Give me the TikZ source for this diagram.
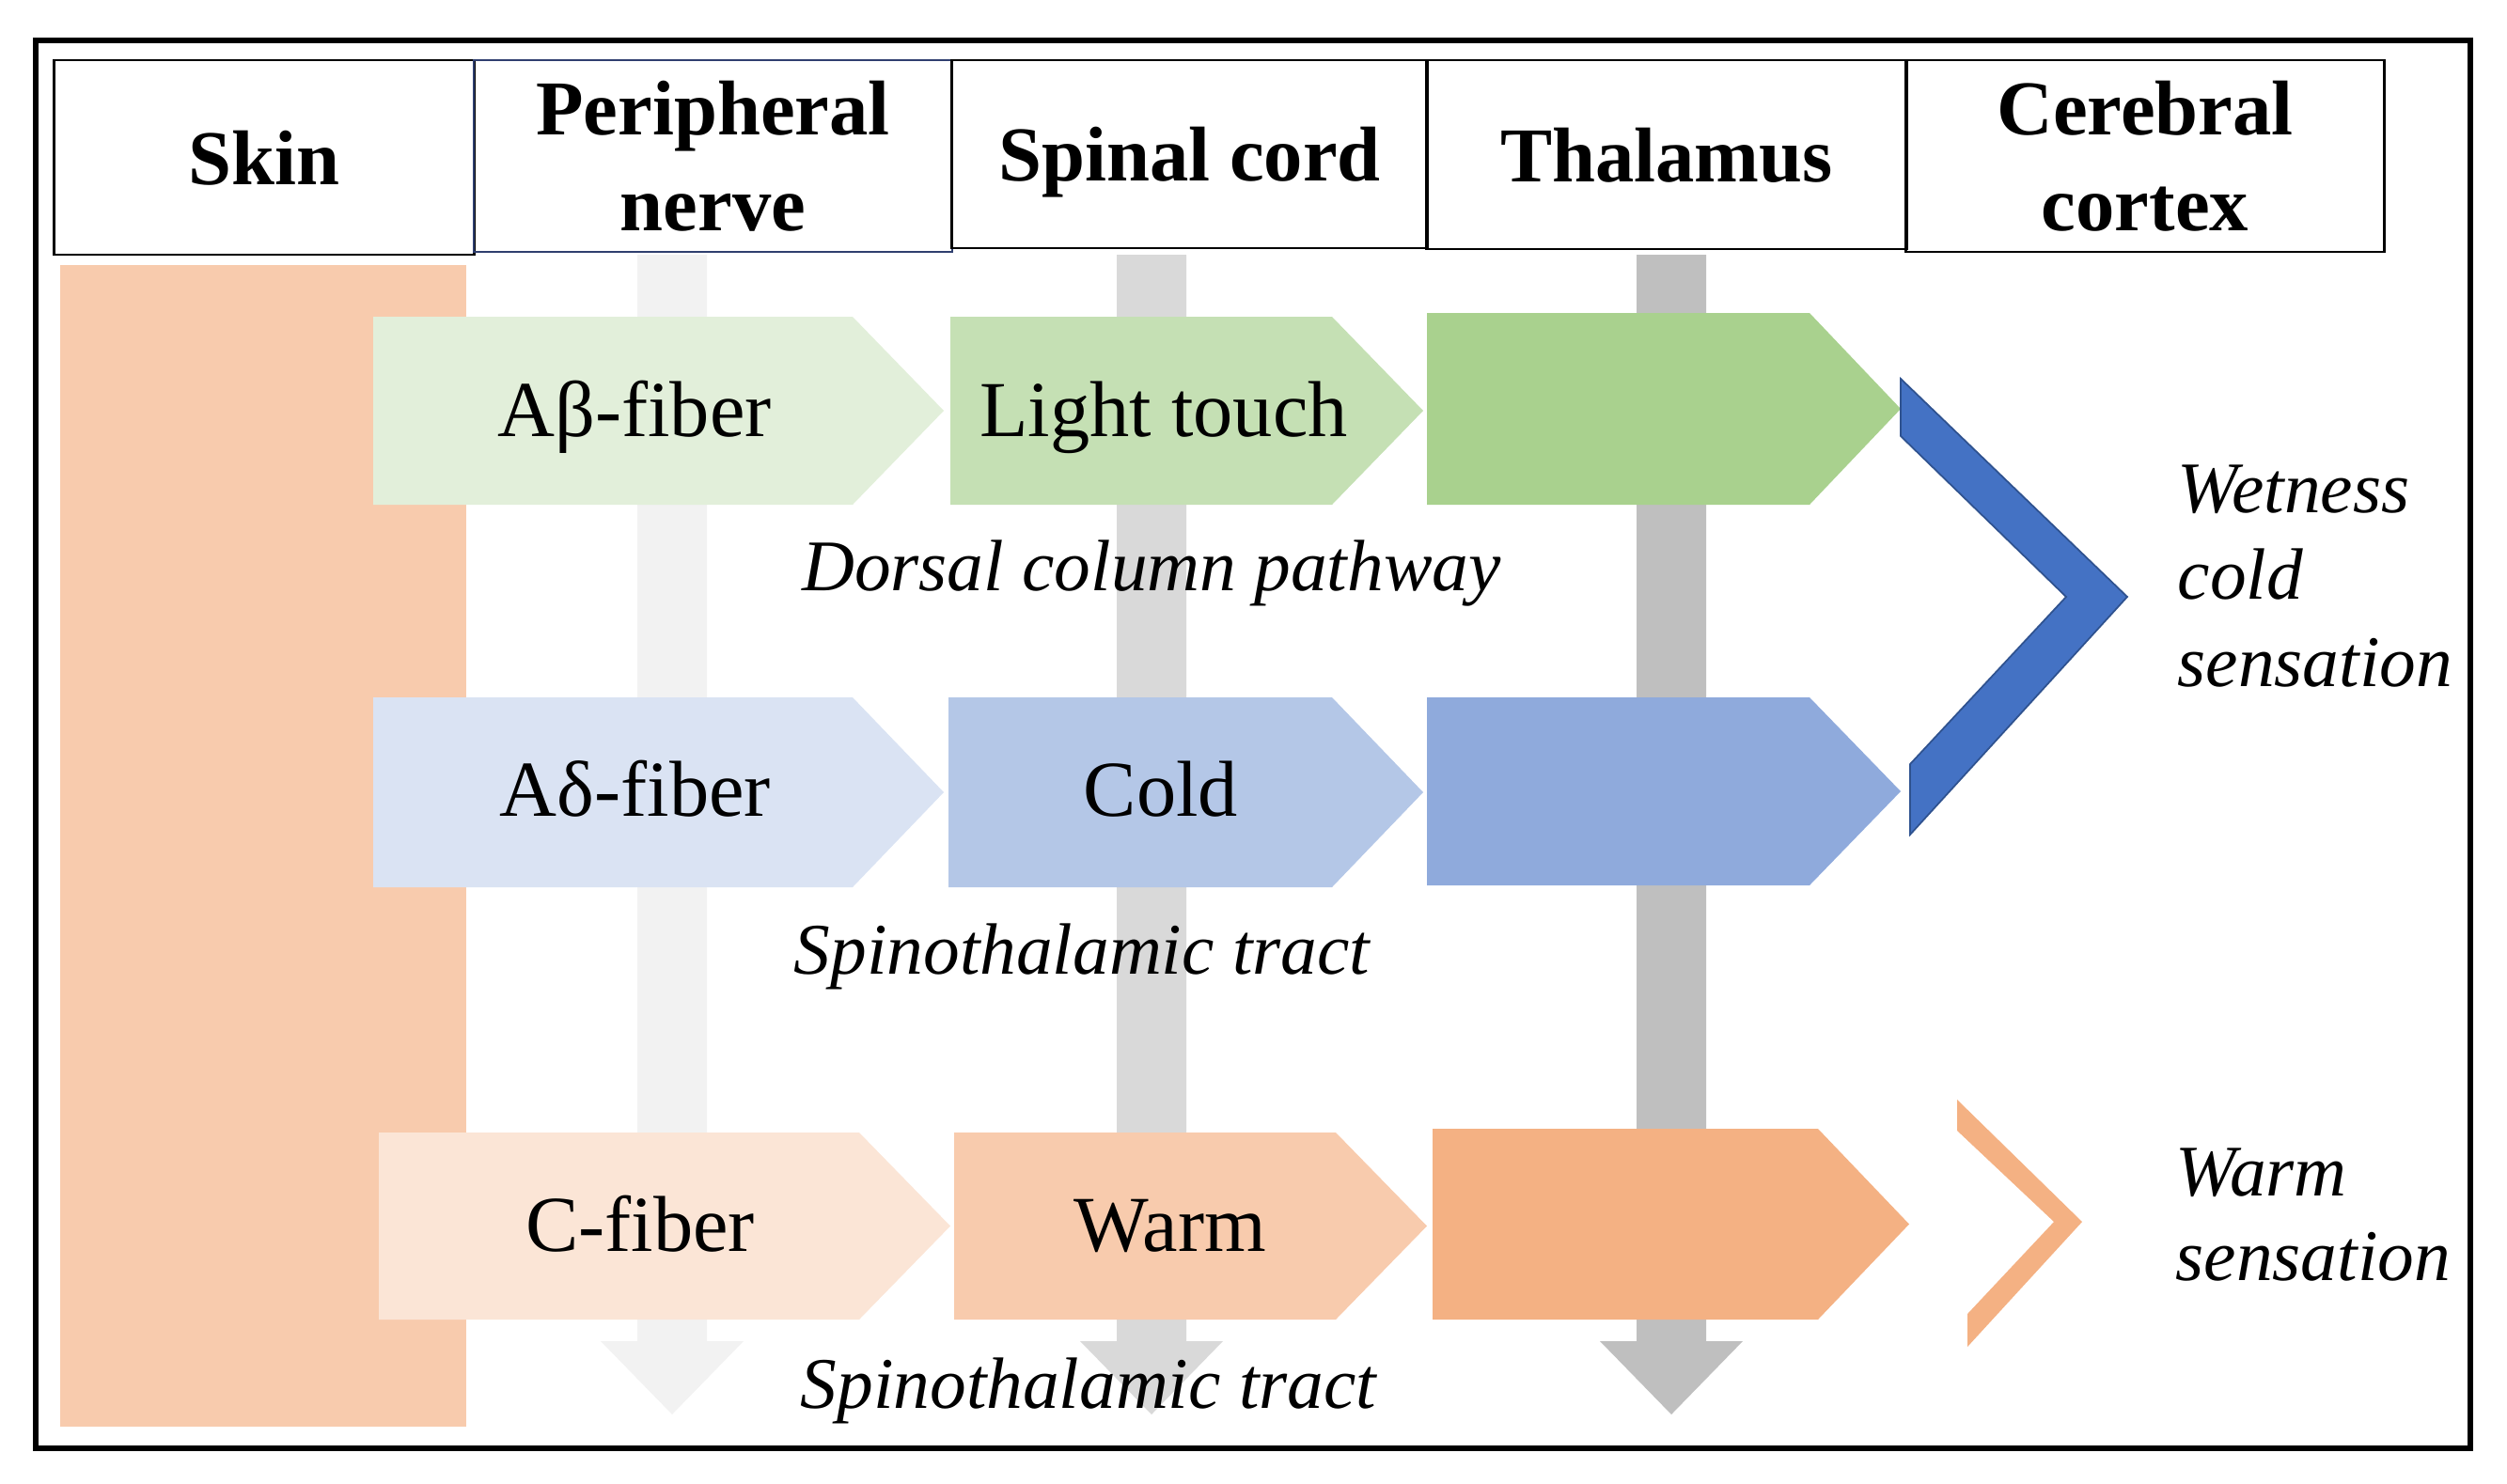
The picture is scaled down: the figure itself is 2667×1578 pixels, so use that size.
\documentclass[tikz,border=0pt]{standalone}
\usepackage{fontspec}
\setmainfont{Liberation Serif}
\usetikzlibrary{calc}

\definecolor{skincol}{HTML}{F8CBAD}
\definecolor{navy}{HTML}{2F3F6F}
\definecolor{greyA}{HTML}{F2F2F2}
\definecolor{greyB}{HTML}{D9D9D9}
\definecolor{greyC}{HTML}{BFBFBF}
\definecolor{greenA}{HTML}{E2EFDA}
\definecolor{greenB}{HTML}{C5E0B4}
\definecolor{greenC}{HTML}{A9D18E}
\definecolor{blueA}{HTML}{DAE3F3}
\definecolor{blueB}{HTML}{B4C7E7}
\definecolor{blueC}{HTML}{8FAADC}
\definecolor{peachA}{HTML}{FBE5D6}
\definecolor{peachB}{HTML}{F8CBAD}
\definecolor{peachC}{HTML}{F4B183}
\definecolor{chevblue}{HTML}{4472C4}
\definecolor{chevedge}{HTML}{2F528F}

\begin{document}
\begin{tikzpicture}[x=0.01cm,y=-0.01cm,
    hdr/.style={draw,line width=0.8pt,inner sep=0pt,align=center,
      font=\fontsize{23.5}{29}\selectfont\bfseries},
    lbl/.style={anchor=base,inner sep=0pt,font=\fontsize{24}{28}\selectfont},
    tract/.style={anchor=base,inner sep=0pt,font=\fontsize{22}{26}\selectfont\itshape},
    side/.style={anchor=base west,inner sep=0pt,font=\fontsize{22}{26}\selectfont\itshape}]
  \useasboundingbox (0,0) rectangle (2667,1578);
  \draw[line width=1.8pt] (38,43) rectangle (2628,1541);

  % header
  \node[hdr,text depth=0pt,minimum width=4.46cm,minimum height=2.07cm] (skin) at (281,167.5) {Skin};
  \node[hdr,draw=navy,line width=0.6pt,minimum width=5.09cm,minimum height=2.04cm]
    (periph) at (758.5,166) {Peripheral\\nerve};
  \node[hdr,text depth=0pt,minimum width=5.05cm,minimum height=2.00cm] (spinal) at (1265.5,164) {Spinal cord};
  \node[hdr,text depth=0pt,minimum width=5.10cm,minimum height=2.01cm] (thal) at (1773,164.5) {Thalamus};
  \node[hdr,minimum width=5.08cm,minimum height=2.04cm] (cortex) at (2282,166) {Cerebral\\cortex};

  % skin block
  \fill[skincol] (64,282) rectangle (496,1518);

  % downward grey arrows
  \foreach \cx/\col in {715/greyA,1225/greyB,1778/greyC}
    \fill[\col] ({\cx-37},271) -- ({\cx+37},271) -- ({\cx+37},1427) -- ({\cx+76},1427)
      -- (\cx,1505) -- ({\cx-76},1427) -- ({\cx-37},1427) -- cycle;

  % pathway arrows
  \foreach \col/\xa/\xb/\ya/\yb in {
      greenA/397/1004/337/537, greenB/1011/1514/337/537, greenC/1518/2022/333/537,
      blueA/397/1004/742/944, blueB/1009/1514/742/944, blueC/1518/2022/742/942,
      peachA/403/1011/1205/1404, peachB/1015/1518/1205/1404, peachC/1524/2031/1201/1404}
    \fill[\col] (\xa,\ya) -- ({\xb-97},\ya) -- (\xb,{(\ya+\yb)/2}) -- ({\xb-97},\yb)
      -- (\xa,\yb) -- cycle;

  % chevrons to cortex
  \filldraw[fill=chevblue,draw=chevedge,line width=0.5pt] (2022,403) -- (2263,635)
    -- (2032,888) -- (2032,813) -- (2198,635) -- (2022,464) -- cycle;
  \fill[peachC] (2082,1170) -- (2215,1300) -- (2093,1433) -- (2093,1398)
    -- (2185,1300) -- (2082,1203) -- cycle;

  % labels
  \node[lbl] (abeta) at (675,464) {Aβ-fiber};
  \node[lbl] (touch) at (1238,464) {Light touch};
  \node[lbl] (adelta) at (676,868) {Aδ-fiber};
  \node[lbl] (cold) at (1235,868) {Cold};
  \node[lbl] (cfib) at (681,1331) {C-fiber};
  \node[lbl] (warm) at (1245,1331) {Warm};

  \node[tract] (dorsal) at (1225,628) {Dorsal column pathway};
  \node[tract] (spino1) at (1151,1036) {Spinothalamic tract};
  \node[tract] (spino2) at (1158,1498) {Spinothalamic tract};

  \node[side] (wet1) at (2316,545) {Wetness};
  \node[side] (wet2) at (2316,637) {cold};
  \node[side] (wet3) at (2316,730) {sensation};
  \node[side] (hot1) at (2314,1272) {Warm};
  \node[side] (hot2) at (2314,1362) {sensation};
\end{tikzpicture}
\end{document}
